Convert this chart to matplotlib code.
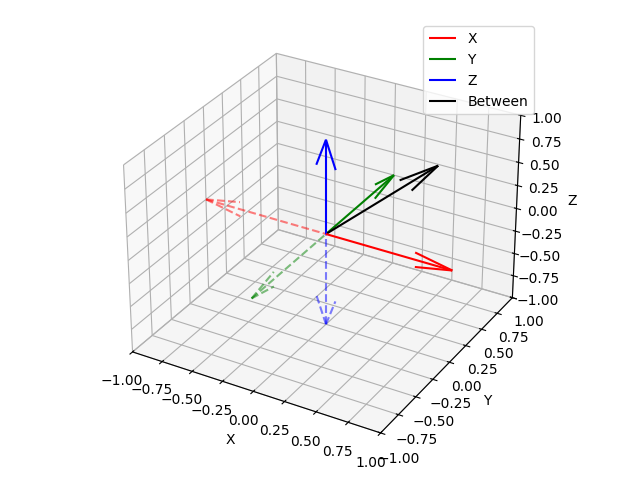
import numpy as np
import matplotlib
matplotlib.use("Agg")
import matplotlib.pyplot as plt

labels = ["X", "Y", "Z", "Between"]
colors = ["red", "green", "blue", "black"]
vectors = [[1, 0, 0], [0, 1, 0], [0, 0, 1], [0.577, 0.577, 0.577]]
neg_vectors = [[-1, 0, 0], [0, -1, 0], [0, 0, -1]]

fig = plt.figure(figsize=(6.4, 4.8), dpi=100)
ax = fig.add_subplot(projection="3d")
for v, c, l in zip(vectors, colors, labels):
    ax.quiver(0, 0, 0, v[0], v[1], v[2], color=c, label=l)
for v, c in zip(neg_vectors, colors):
    ax.quiver(0, 0, 0, v[0], v[1], v[2], color=c, linestyle="--", alpha=0.5)
ax.set_xlim(-1, 1); ax.set_ylim(-1, 1); ax.set_zlim(-1, 1)
ax.set_xlabel("X"); ax.set_ylabel("Y"); ax.set_zlabel("Z")
ax.legend()
ax.set_position([0.03, 0.04, 0.94, 0.92])
fig.savefig("out.png")
